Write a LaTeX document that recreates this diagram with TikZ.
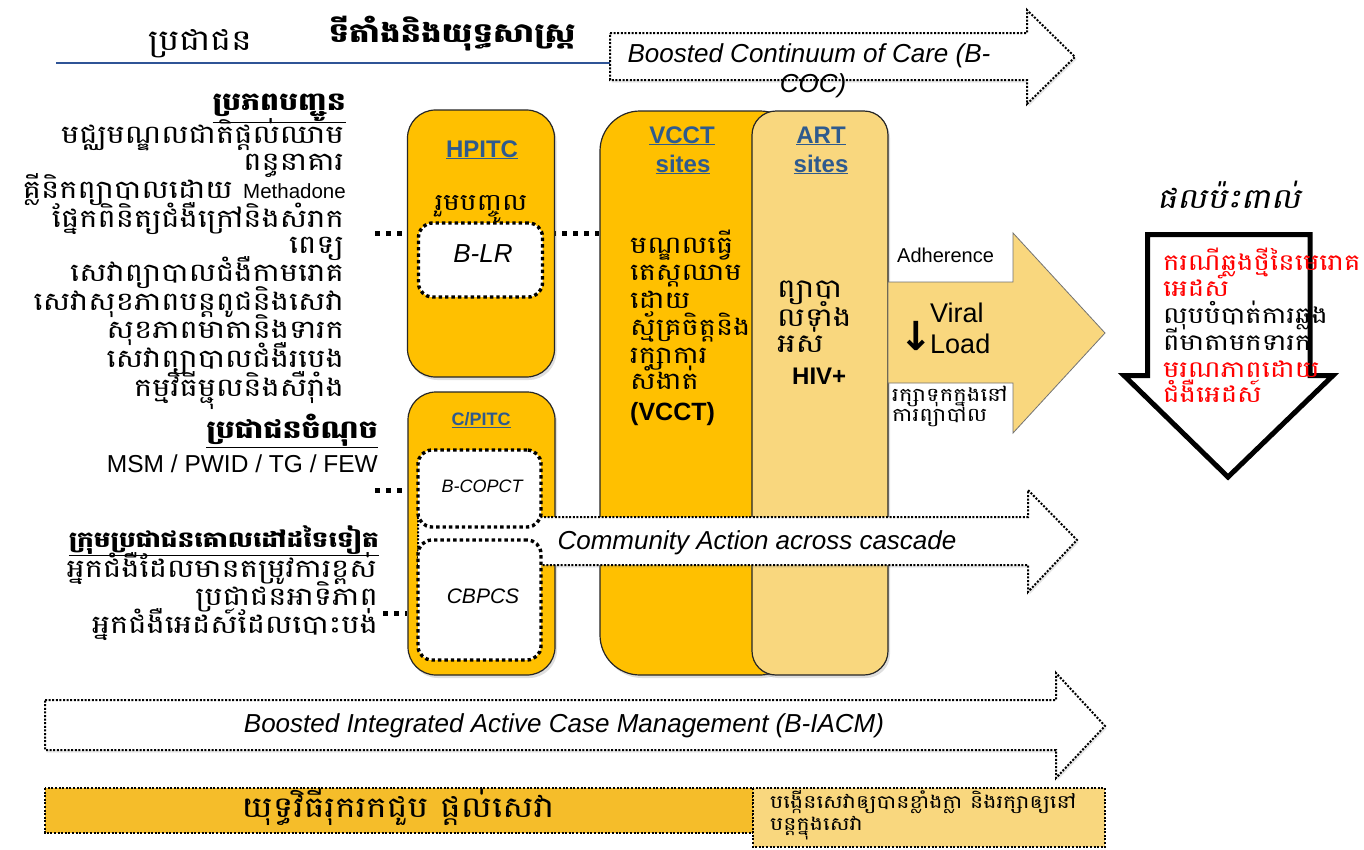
\documentclass[tikz,border=0pt]{standalone}
\usepackage{fontspec}
\setmainfont{Liberation Sans}
\newfontfamily\km[Script=Khmer,FakeStretch=1.2]{Battambang}
\newfontfamily\kmsl[Script=Khmer,FakeStretch=1.2,FakeSlant=0.2]{Battambang}
\newfontfamily\sym{DejaVu Sans}
\usetikzlibrary{shadows}

\definecolor{amber}{HTML}{FFC000}
\definecolor{pale}{HTML}{F9D77E}
\definecolor{baramber}{HTML}{F5BD2A}
\definecolor{linkblue}{HTML}{2E5A8E}
\definecolor{ruleblue}{HTML}{2F5496}
\definecolor{alert}{HTML}{FF0000}

\newcommand\fsz[2]{\fontsize{#1}{#2}\selectfont}

\pgfdeclarelayer{back}
\pgfdeclarelayer{behind}
\pgfsetlayers{back,behind,main}

\tikzset{
  site/.style={draw=black!85, line width=1.2pt, fill=amber, inner sep=0pt,
    drop shadow={opacity=0.25, shadow xshift=2pt, shadow yshift=-3pt}},
  inbox/.style={draw=black, fill=white, line width=3.4pt, dash pattern=on 3.4pt off 3pt,
    rounded corners=14pt, inner sep=0pt},
  flow/.style={draw=black, fill=white, line width=2pt, dash pattern=on 2pt off 1.6pt,
    drop shadow={opacity=0.18, shadow xshift=1.5pt, shadow yshift=-2.5pt}},
  bar/.style={draw=black, line width=2pt, dash pattern=on 2pt off 1.6pt},
  feed/.style={line width=5pt, dash pattern=on 5pt off 6pt},
  lst/.style={anchor=base east, inner sep=0pt, font=\km\fsz{25.5}{28}},
  lsthead/.style={anchor=base east, inner sep=0pt, font=\km\bfseries\fsz{25}{28}},
  kmw/.style={anchor=base west, inner sep=0pt, font=\km\fsz{24}{28}},
  sitelabel/.style={anchor=base, inner sep=0pt, text=linkblue, font=\bfseries\fsz{24}{28}},
  tag/.style={anchor=base, inner sep=0pt, font=\itshape\fsz{#1}{#1}},
  banner/.style={anchor=base, inner sep=0pt, font=\itshape\fsz{26}{29}},
}

\begin{document}
\begin{tikzpicture}[x=1pt,y=-1pt]
\useasboundingbox (0,0) rectangle (1364,849);
\begin{pgfonlayer}{back}
  \fill[white] (0,0) rectangle (1364,849);
\end{pgfonlayer}

% ---------- header ----------
\node[anchor=base, inner sep=0pt, font=\km\fsz{29}{32}] (pop) at (200,50) {ប្រជាជន};
\node[anchor=base, inner sep=0pt, font=\km\bfseries\fsz{27}{32}] (strat) at (452,42) {ទីតាំងនិងយុទ្ធសាស្ត្រ};
\coordinate (ruleA) at (56,63);
\coordinate (ruleB) at (610,63);
\draw[ruleblue, line width=2.2pt] (ruleA) -- (ruleB);

% Boosted Continuum of Care arrow
\draw[flow] (610,33) -- (1027,33) -- (1027,10) -- (1075,57) -- (1027,104) -- (1027,80) -- (610,80) -- cycle;
\node[banner] (coc1) at (809,62) {Boosted Continuum of Care (B-};
\node[banner] (coc2) at (813,92) {COC)};

% ---------- referral sources ----------
\node[lsthead] (src) at (346,110) {\underline{ប្រភពបញ្ជូន}};
\node[lst] (s1) at (344,143) {មជ្ឈមណ្ឌលជាតិផ្តល់ឈាម};
\node[lst] (s2) at (344,170) {ពន្ធនាគារ};
\node[lst] (s3) at (346,198) {គ្លីនិកព្យាបាលដោយ {\rmfamily\fsz{20.5}{28}Methadone}};
\node[lst] (s4) at (344,227) {ផ្នែកពិនិត្យជំងឺក្រៅនិងសំរាក};
\node[lst] (s5) at (344,253) {ពេទ្យ};
\node[lst] (s6) at (344,281) {សេវាព្យាបាលជំងឺកាមរោគ};
\node[lst] (s7) at (344,310) {សេវាសុខភាពបន្តពូជនិងសេវា};
\node[lst] (s8) at (344,338) {សុខភាពមាតានិងទារក};
\node[lst] (s9) at (344,367) {សេវាព្យាបាលជំងឺរបេង};
\node[lst] (s10) at (344,396) {កម្មវិធីម្ជុលនិងសឺរ៉ាំង};

\node[lsthead] (key) at (378,438) {\underline{ប្រជាជនចំណុច}};
\node[anchor=base east, inner sep=0pt, font=\fsz{24.5}{28}] (kp) at (378,472) {MSM / PWID / TG / FEW};

\node[lsthead, font=\km\bfseries\fsz{22}{28}] (oth) at (379,547) {\underline{ក្រុមប្រជាជនគោលដៅដទៃទៀត}};
\node[lst] (o1) at (377,577) {អ្នកជំងឺដែលមានតម្រូវការខ្ពស់};
\node[lst] (o2) at (378,605) {ប្រជាជនអាទិភាព};
\node[lst] (o3) at (378,633) {អ្នកជំងឺអេដស៍ដែលបោះបង់};

% ---------- service sites ----------
\node[site, rounded corners=28pt, minimum width=147pt, minimum height=267pt] (hpitc) at (481,243.5) {};
\node[site, rounded corners=28pt, minimum width=147pt, minimum height=283pt] (cpitc) at (481.5,533.5) {};
\node[site, rounded corners=40pt, minimum width=200pt, minimum height=564pt] (vcct) at (700,393) {};
\node[site, fill=pale, rounded corners=24pt, minimum width=136pt, minimum height=564pt] (art) at (820,393) {};

% dotted referral links, behind the boxes
\coordinate (f1) at (375,233);
\coordinate (f2) at (375,490);
\coordinate (f3) at (383,613);
\begin{pgfonlayer}{behind}
  \draw[feed] (f1) -- (vcct.west |- f1);
  \draw[feed] (f2) -- (cpitc.west |- f2);
  \draw[feed] (f3) -- (cpitc.west |- f3);
\end{pgfonlayer}

\node[sitelabel] (hpitcL) at (482,157) {\underline{HPITC}};
\node[anchor=base, inner sep=0pt, font=\km\fsz{23.5}{28}] (hpitcK) at (481,210) {រួមបញ្ចូល};
\node[inbox, minimum width=124pt, minimum height=74pt] (blr) at (480.5,260) {};
\node[tag=26] (blrL) at (483,262) {B-LR};

\node[sitelabel, font=\bfseries\fsz{18}{20}] (cpitcL) at (481,425) {\underline{C/PITC}};

\node[sitelabel] (vcctL1) at (682,143) {\underline{VCCT}};
\node[sitelabel] (vcctL2) at (683,172) {\underline{sites}};
\node[sitelabel] (artL1) at (821,143) {\underline{ART}};
\node[sitelabel] (artL2) at (821,172) {\underline{sites}};

\node[kmw] (v1) at (630,253) {មណ្ឌលធ្វើ};
\node[kmw] (v2) at (630,280) {តេស្តឈាម};
\node[kmw] (v3) at (630,308) {ដោយ};
\node[kmw] (v4) at (630,335) {ស្ម័គ្រចិត្តនិង};
\node[kmw] (v5) at (630,363) {រក្សាការ};
\node[kmw] (v6) at (630,389) {សំងាត់};
\node[anchor=base west, inner sep=0pt, font=\bfseries\fsz{25}{28}] (v7) at (630,420) {(VCCT)};

\node[kmw, font=\km\fsz{26}{30}] (a1) at (777,297) {ព្យាបា};
\node[kmw, font=\km\fsz{26}{30}] (a2) at (777,326) {លទាំង};
\node[kmw, font=\km\fsz{26}{30}] (a3) at (777,352) {អស់};
\node[anchor=base west, inner sep=0pt, font=\bfseries\fsz{24}{28}] (a4) at (792,384) {HIV+};

% ---------- treatment outcome arrow ----------
\draw[draw=black!55, line width=0.8pt, fill=pale]
  (888,282) -- (1013,282) -- (1013,233) -- (1105,333) -- (1013,433) -- (1013,383) -- (888,383) -- cycle;
\node[anchor=base west, inner sep=0pt, font=\fsz{20}{24}] (adh) at (897,262) {Adherence};
\node[anchor=base west, inner sep=0pt, font=\fsz{27}{31}] (vir) at (930,322) {Viral};
\node[anchor=base west, inner sep=0pt, font=\fsz{27}{31}] (load) at (930,353) {Load};
\node[inner sep=0pt, font=\sym\bfseries\fsz{40}{40}] (down) at (916,336) {↓};
\node[anchor=base west, inner sep=0pt, font=\km\fsz{19}{20}] (ret1) at (892,401) {រក្សាទុកក្នុងនៅ};
\node[anchor=base west, inner sep=0pt, font=\km\fsz{19}{20}] (ret2) at (892,421) {ការព្យាបាល};

% ---------- community action ----------
\draw[flow] (418,517) -- (1028,517) -- (1028,490) -- (1077,540) -- (1028,592) -- (1028,565) -- (418,565) -- cycle;
\node[banner, font=\itshape\fsz{26}{28}] (caL) at (757,549) {Community Action across cascade};

\node[inbox, minimum width=123pt, minimum height=77pt] (bcopct) at (479.5,488.5) {};
\node[tag=18] (bcopctL) at (482,492) {B-COPCT};
\node[inbox, minimum width=123pt, minimum height=120pt] (cbpcs) at (479.5,600) {};
\node[tag=21] (cbpcsL) at (483,603) {CBPCS};

% ---------- impact ----------
\node[anchor=base west, inner sep=0pt, font=\kmsl\fsz{28}{30}] (imp) at (1157,208) {ផលប៉ះពាល់};
\draw[line width=5pt, fill=white, line join=miter]
  (1147.5,234.5) -- (1310,234.5) -- (1310,375.5) -- (1333,375.5) -- (1228,477) -- (1124,375.5) -- (1147.5,375.5) -- cycle;
\node[kmw, font=\km\fsz{23}{26}, text=alert] (i1) at (1163,270) {ករណីឆ្លងថ្មីនៃមេរោគ};
\node[kmw, font=\km\fsz{23}{26}, text=alert] (i2) at (1163,296) {អេដស៍};
\node[kmw, font=\km\fsz{23}{26}] (i3) at (1163,323) {លុបបំបាត់ការឆ្លង};
\node[kmw, font=\km\fsz{23}{26}] (i4) at (1163,350) {ពីមាតាមកទារក};
\node[kmw, font=\km\fsz{23}{26}, text=alert] (i5) at (1163,377) {មរណភាពដោយ};
\node[kmw, font=\km\fsz{23}{26}, text=alert] (i6) at (1163,402) {ជំងឺអេដស៍};

% ---------- case management ----------
\draw[flow] (45,700) -- (1056,700) -- (1056,673) -- (1105,726) -- (1056,778) -- (1056,750) -- (45,750) -- cycle;
\node[banner] (iacm) at (564,732) {Boosted Integrated Active Case Management (B-IACM)};

% ---------- bottom bars ----------
\draw[bar, fill=baramber] (45,788) rectangle (753,833);
\draw[bar, fill=pale] (753,788) rectangle (1105,847);
\node[anchor=base, inner sep=0pt, font=\km\fsz{29}{30}] (b1) at (398,817) {យុទ្ធវិធីរុករកជួប ផ្តល់សេវា};
\node[kmw, font=\km\fsz{18.5}{22}] (b2) at (770,808) {បង្កើនសេវាឲ្យបានខ្លាំងក្លា និងរក្សាឲ្យនៅ};
\node[kmw, font=\km\fsz{18.5}{22}] (b3) at (770,830) {បន្តក្នុងសេវា};
\end{tikzpicture}
\end{document}
